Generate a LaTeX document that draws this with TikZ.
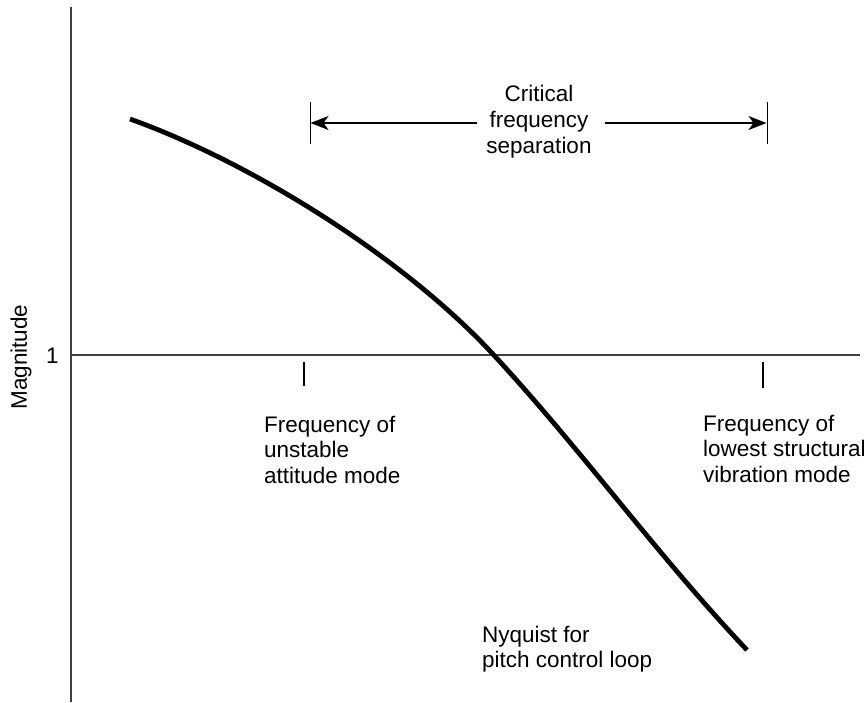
\documentclass[tikz,border=0pt]{standalone}
\usepackage{fontspec}
\setmainfont{Liberation Sans}
\usetikzlibrary{arrows.meta}
\begin{document}
\begin{tikzpicture}[x=1pt,y=-1pt,
  lbl/.style={font=\fontsize{22.5}{25.8}\selectfont, inner sep=0pt},
  leftlbl/.style={lbl, align=left, anchor=base west},
  axis/.style={line width=1.4pt, draw=black!75},
  tickmark/.style={line width=1.6pt},
  arr/.style={line width=1.6pt, -{Stealth[length=18pt,width=14pt,inset=5pt]}}]
\useasboundingbox (0,0) rectangle (868,702);

% axes
\coordinate (ytop) at (71,7);
\coordinate (ybot) at (71,702);
\coordinate (hl) at (71,355);
\coordinate (hr) at (860,355);
\draw[axis] (ytop) -- (ybot);
\draw[line width=1.1pt, draw=black!75] (hl) -- (hr);

\node[lbl, anchor=base] (one) at (52.5,363) {1};
\node[lbl, rotate=90, anchor=base] (mag) at (27,357) {Magnitude};

% frequency ticks on the unity line
\coordinate (t1a) at (304,362); \coordinate (t1b) at (304,386);
\coordinate (t2a) at (763,362); \coordinate (t2b) at (763,388);
\draw[tickmark] (t1a) -- (t1b);
\draw[tickmark] (t2a) -- (t2b);

% separation bracket (base anchor sits on the last line)
\coordinate (b1a) at (310,102); \coordinate (b1b) at (310,144);
\coordinate (b2a) at (767,102); \coordinate (b2b) at (767,144);
\draw[line width=1pt] (b1a) -- (b1b);
\draw[line width=1pt] (b2a) -- (b2b);
\node[lbl, align=center, anchor=base] (sep) at (539,153.3) {Critical\\frequency\\separation};
\coordinate (al) at (310.5,123);
\coordinate (ar) at (766.5,123);
\coordinate (alt) at (477,123);
\coordinate (art) at (605,123);
\draw[arr] (alt) -- (al);
\draw[arr] (art) -- (ar);

% magnitude curve: crosses unity near the middle, inflects below it
\coordinate (cstart) at (130,119);
\coordinate (ccross) at (491,352);
\coordinate (cend) at (747,650);
\draw[line width=4.8pt, line cap=butt, line join=round]
  (cstart) .. controls (250,162) and (400,255) .. (ccross)
           .. controls (581,449) and (657,555) .. (cend);

% labels
\node[leftlbl] (unst) at (264,483.6) {Frequency of\\unstable\\attitude mode};
\node[leftlbl] (vib) at (703,482.6) {Frequency of\\lowest structural\\vibration mode};
\node[leftlbl] (nyq) at (482,667.8) {Nyquist for\\pitch control loop};
\end{tikzpicture}
\end{document}
